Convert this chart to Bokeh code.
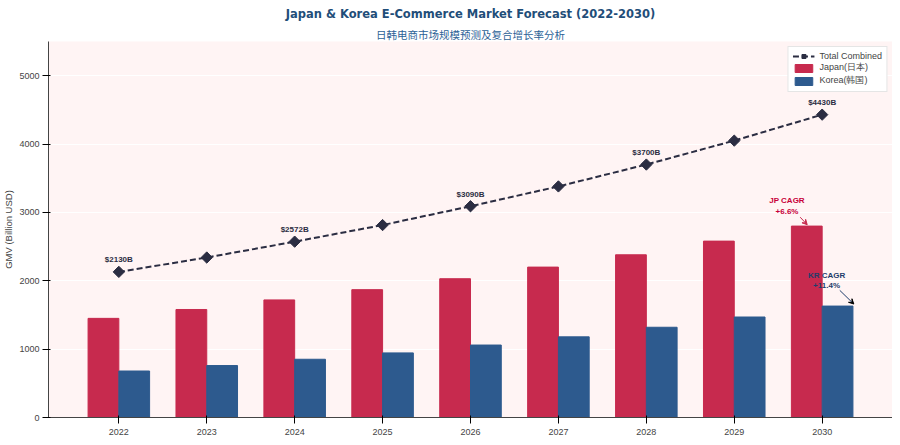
import math
from bokeh.plotting import figure
from bokeh.models import ColumnDataSource, Legend, LegendItem, Arrow, VeeHead, Label, Title, FixedTicker
from bokeh.embed import file_html
from bokeh.resources import INLINE

years = ["2022","2023","2024","2025","2026","2027","2028","2029","2030"]
japan = [1450,1580,1720,1870,2030,2200,2380,2580,2800]
korea = [680,760,852,945,1060,1180,1320,1470,1630]
total = [j+k for j,k in zip(japan,korea)]
label_idx = [0,2,4,6,8]

xs = list(range(len(years)))
p = figure(width=892, height=437, output_backend="svg", toolbar_location=None,
           x_range=(-0.8,8.8), y_range=(0,5500), background_fill_color="#fff4f4",
           min_border_left=30, min_border_right=0, min_border_top=0, min_border_bottom=4)
p.title = Title(text="Japan & Korea E-Commerce Market Forecast (2022-2030)", align="center",
                text_font_size="11.5px", text_color="#1f4e79", text_font_style="bold",
                text_font="DejaVu Sans", standoff=8)
p.add_layout(Title(text="日韩电商市场规模预测及复合增长率分析", align="center", text_font_size="10.5px",
                   text_color="#2b6196", text_font_style="normal", text_font="Noto Sans CJK SC", standoff=0), "above")
src = ColumnDataSource(dict(xj=[x-0.175 for x in xs], xk=[x+0.175 for x in xs], x=xs,
                            japan=japan, korea=korea, total=total))
rj = p.vbar(x="xj", top="japan", width=0.35, source=src, color="#c72a4e")
rk = p.vbar(x="xk", top="korea", width=0.35, source=src, color="#2d5a8e")
rl = p.line(x="x", y="total", source=src, line_dash="6 3", line_width=2, color="#2b2d42")
rm = p.scatter(x="x", y="total", source=src, marker="square", angle=math.pi/4, size=8, color="#2b2d42")
lsrc = ColumnDataSource(dict(x=[xs[i] for i in label_idx], y=[total[i]+110 for i in label_idx],
                             t=[f"${total[i]}B" for i in label_idx]))
p.text(x="x", y="y", text="t", source=lsrc, text_align="center", text_baseline="bottom",
       text_font_size="8px", text_font_style="bold", text_color="#2b2d42")
p.add_layout(Arrow(end=VeeHead(size=5, line_color="#c72a4e", fill_color="#c72a4e"), x_start=7.75, y_start=2930,
                   x_end=7.83, y_end=2820, line_color="#c72a4e"))
p.add_layout(Label(x=7.6, y=2950, text="JP CAGR\n+6.6%", text_font_size="8px", text_font_style="bold",
                   text_color="#c70039", text_align="center"))
p.add_layout(Arrow(end=VeeHead(size=5), x_start=8.2, y_start=1860, x_end=8.36, y_end=1660, line_color="#1f3d6b"))
p.add_layout(Label(x=8.05, y=1860, text="KR CAGR\n+11.4%", text_font_size="8px", text_font_style="bold",
                   text_color="#1f3d6b", text_align="center"))
p.xaxis.ticker = FixedTicker(ticks=xs)
p.xaxis.major_label_overrides = {i: y for i, y in enumerate(years)}
p.yaxis.ticker = FixedTicker(ticks=[0,1000,2000,3000,4000,5000])
p.yaxis.axis_label = "GMV (Billion USD)"
for ax in (p.xaxis, p.yaxis):
    ax.major_label_text_font_size = "9px"
    ax.minor_tick_line_color = None
    ax.axis_line_color = "#444444"
p.yaxis.axis_label_text_font_size = "9.5px"
p.yaxis.axis_label_text_font_style = "normal"
p.yaxis.axis_label_standoff = 2
p.yaxis.major_label_standoff = 3
p.xgrid.grid_line_color = None
p.ygrid.grid_line_color = "white"
p.outline_line_color = None
leg = Legend(items=[LegendItem(label="Total Combined", renderers=[rl, rm]),
                    LegendItem(label="Japan(日本)", renderers=[rj]),
                    LegendItem(label="Korea(韩国)", renderers=[rk])],
             location="top_right", label_text_font_size="9px", glyph_height=10, glyph_width=22,
             spacing=0, padding=4, label_height=10, border_line_color="#cccccc", margin=5)
p.add_layout(leg)
open("out.html", "w").write(file_html(p, INLINE))
